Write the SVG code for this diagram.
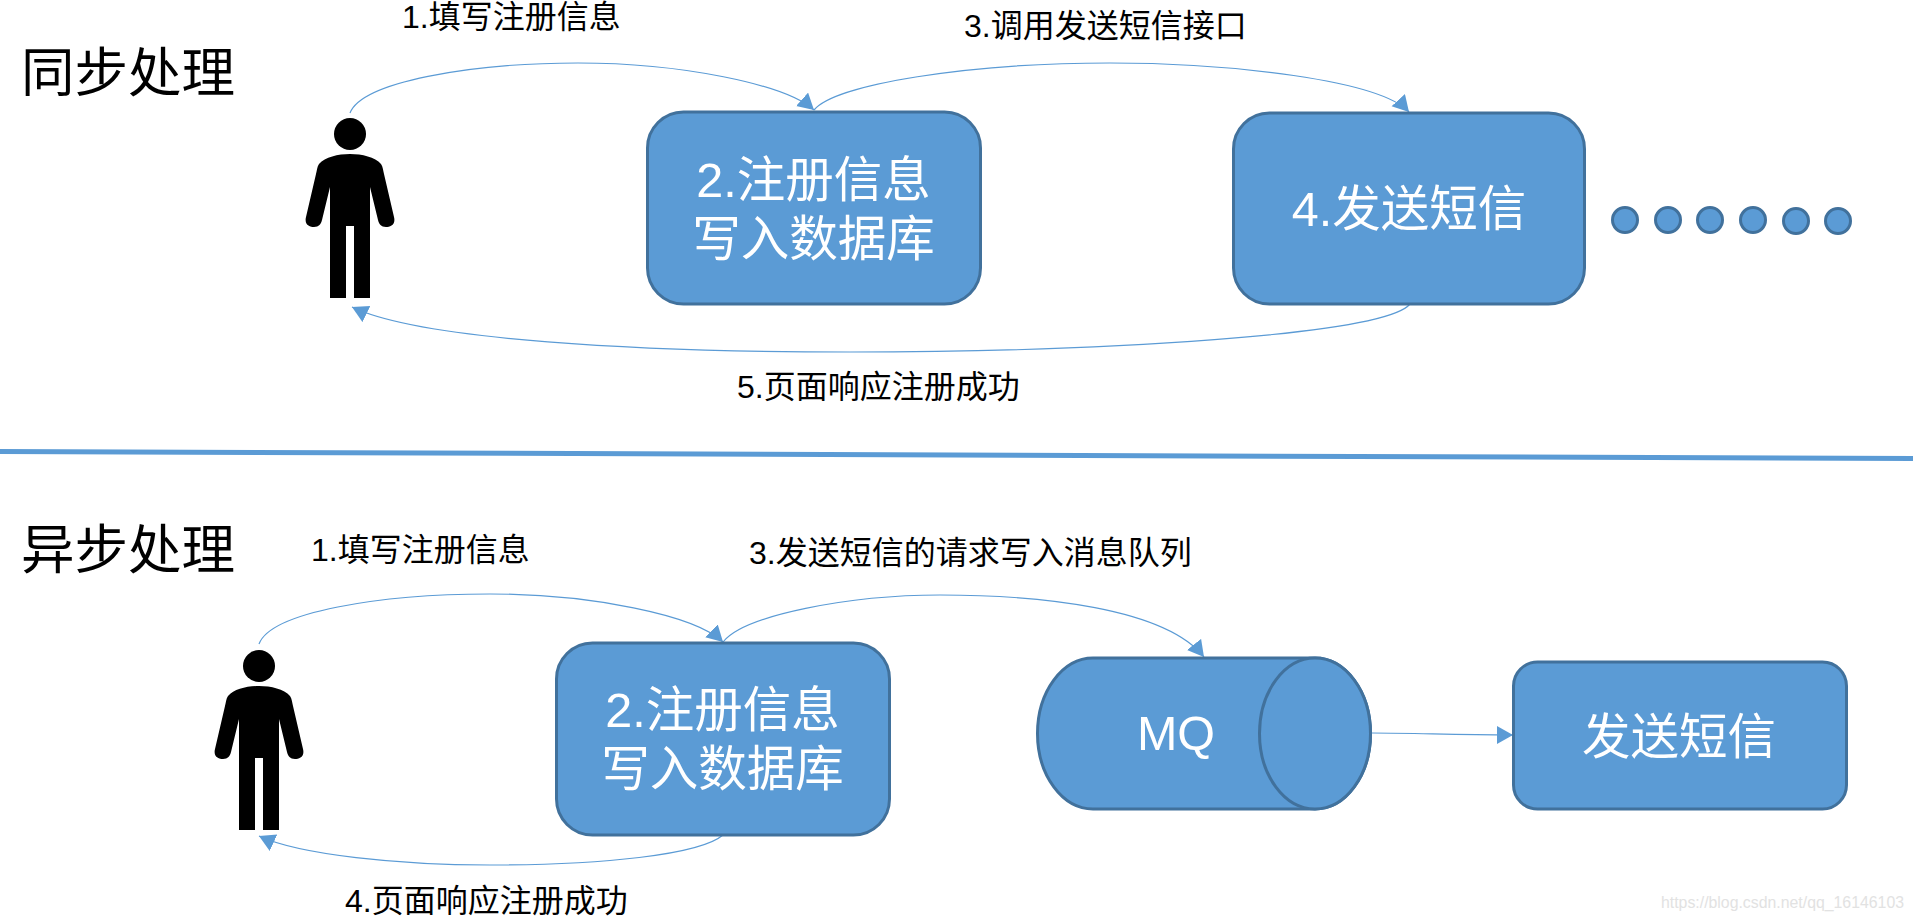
<svg xmlns="http://www.w3.org/2000/svg" width="1913" height="922" viewBox="0 0 1913 922">
  <style>
    text { font-family: "Liberation Sans", "Noto Sans CJK SC", sans-serif; }
    .box { fill: #5B9BD5; stroke: #41719C; stroke-width: 3; }
    .link { fill: none; stroke: #5B9BD5; stroke-width: 1.2; marker-end: url(#head); }
    .heading { font-size: 53.5px; fill: #000; }
    .label { font-size: 32px; fill: #000; }
    .inner { font-size: 48.5px; fill: #fff; text-anchor: middle; }
    .dot { fill: #5B9BD5; stroke: #41719C; stroke-width: 3; }
  </style>
  <defs>
    <marker id="head" markerUnits="userSpaceOnUse" markerWidth="18" markerHeight="20" refX="16" refY="9" orient="auto">
      <path d="M0 0 L16 9 L0 18 Z" fill="#5B9BD5"/>
    </marker>
    <!-- Standing figure, centred on x=0 with its head starting at y=118 -->
    <g id="person">
      <ellipse cx="0" cy="134" rx="16" ry="16"/>
      <path d="M0 154 C-12 154 -25 157 -31 164 C-33 167 -33 170 -34 174 L-44 217 C-46 225 -40 227 -36 227 C-31 227 -29 224 -28 220 L-20 187 V298 H-4 V226 H4 V298 H20 V187 L28 220 C29 224 31 227 36 227 C40 227 46 225 44 217 L34 174 C33 170 33 167 31 164 C25 157 12 154 0 154 Z"/>
    </g>
  </defs>

  <rect width="1913" height="922" fill="#fff"/>

  <g id="connectors">
    <path class="link" d="M350 113 C362 82 470 63 578 63 C680 63 785 84 814 110"/>
    <path class="link" d="M814 110 C835 84 970 63 1110 63 C1230 63 1380 80 1409 112"/>
    <path class="link" d="M1410 304 C1385 335 1100 352 850 352 C640 352 420 340 352 307"/>
    <path class="link" d="M259 644 C271 612 380 594 490 594 C590 594 695 615 723 642"/>
    <path class="link" d="M723 642 C744 615 850 595 940 595 C1040 595 1165 608 1204 657"/>
    <path class="link" d="M723 835 C700 855 600 865 490 865 C400 865 300 855 259 836"/>
    <path class="link" d="M1372 733 C1420 733 1450 735 1513 735"/>
  </g>

  <path id="divider" d="M0 449 L1913 456 V461 L0 454 Z" fill="#5B9BD5"/>

  <text id="title-sync" class="heading" x="21" y="92">同步处理</text>
  <text id="title-async" class="heading" x="21" y="569">异步处理</text>

  <g id="labels">
    <text class="label" x="402" y="28">1.填写注册信息</text>
    <text class="label" x="964" y="37">3.调用发送短信接口</text>
    <text class="label" x="737" y="398">5.页面响应注册成功</text>
    <text class="label" x="311" y="561">1.填写注册信息</text>
    <text class="label" x="749" y="564">3.发送短信的请求写入消息队列</text>
    <text class="label" x="345" y="912">4.页面响应注册成功</text>
  </g>

  <g id="user-sync"><use href="#person" x="350" y="0"/></g>

  <g id="write-db-sync">
    <rect class="box" x="647.5" y="112" width="333" height="192" rx="36"/>
    <text class="inner" x="813.5" y="197">2.注册信息</text>
    <text class="inner" x="813.5" y="256">写入数据库</text>
  </g>

  <g id="send-sms-sync">
    <rect class="box" x="1233.5" y="113" width="351" height="191" rx="36"/>
    <text class="inner" x="1409" y="226">4.发送短信</text>
  </g>

  <g id="more-steps">
    <circle class="dot" cx="1625" cy="220" r="12.5"/>
    <circle class="dot" cx="1668" cy="220" r="12.5"/>
    <circle class="dot" cx="1710" cy="220" r="12.5"/>
    <circle class="dot" cx="1753" cy="220" r="12.5"/>
    <circle class="dot" cx="1796" cy="221" r="12.5"/>
    <circle class="dot" cx="1838" cy="221" r="12.5"/>
  </g>

  <g id="user-async"><use href="#person" x="259" y="532"/></g>

  <g id="write-db-async">
    <rect class="box" x="556.5" y="643" width="333" height="192" rx="36"/>
    <text class="inner" x="722.5" y="727">2.注册信息</text>
    <text class="inner" x="722.5" y="786">写入数据库</text>
  </g>

  <g id="mq">
    <path class="box" d="M1093 658 H1315 A55.5 75.5 0 0 1 1315 809 H1093 A55.5 75.5 0 0 1 1093 658 Z"/>
    <ellipse class="box" cx="1315" cy="733.5" rx="55.5" ry="75.5"/>
    <text class="inner" x="1176" y="750">MQ</text>
  </g>

  <g id="send-sms-async">
    <rect class="box" x="1513.5" y="662" width="333" height="147" rx="24"/>
    <text class="inner" x="1679" y="754">发送短信</text>
  </g>

  <text id="watermark" x="1661" y="908" font-size="16" fill="#e2e2e2" textLength="243" lengthAdjust="spacingAndGlyphs">https://blog.csdn.net/qq_16146103</text>
</svg>
